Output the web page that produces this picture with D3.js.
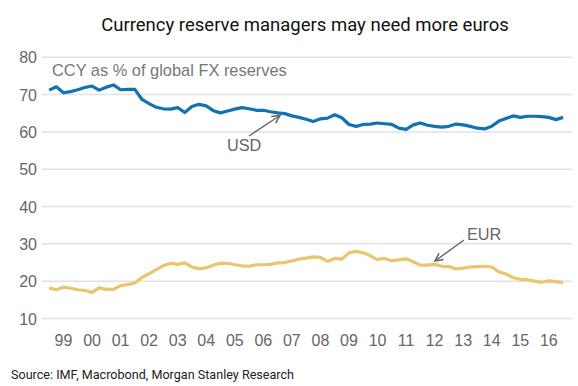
<!DOCTYPE html>
<html>
<head>
<meta charset="utf-8">
<script src="https://cdn.jsdelivr.net/npm/d3@7"></script>
<style>
  body { margin: 0; background: #fff; }
  svg { display: block; }
</style>
</head>
<body>
<div id="chart"></div>
<script>
// Currency reserve managers may need more euros
// quarterly COFER shares, 1999Q1 onwards
const startYear = 1999;
const usd = [
  71.2, 72.1, 70.5, 70.8, 71.3, 71.9, 72.3, 71.2, 72.0, 72.6,
  71.3, 71.4, 71.4, 68.7, 67.6, 66.6, 66.2, 66.1, 66.5, 65.2,
  66.8, 67.4, 67.0, 65.7, 65.1, 65.6, 66.1, 66.5, 66.2, 65.8,
  65.8, 65.4, 65.1, 64.9, 64.3, 63.9, 63.4, 62.8, 63.5, 63.7,
  64.6, 63.8, 62.0, 61.5, 62.0, 62.1, 62.4, 62.2, 62.0, 61.0,
  60.7, 61.9, 62.4, 61.8, 61.5, 61.3, 61.5, 62.1, 61.9, 61.5,
  61.0, 60.8, 61.5, 62.9, 63.6, 64.3, 63.9, 64.2, 64.2, 64.1,
  63.9, 63.3, 63.9
];
const eur = [
  18.2, 17.7, 18.4, 18.1, 17.7, 17.5, 17.0, 18.2, 17.8, 17.8,
  18.8, 19.1, 19.5, 21.0, 22.0, 23.1, 24.2, 24.8, 24.5, 24.9,
  23.8, 23.3, 23.6, 24.3, 24.8, 24.8, 24.4, 24.1, 24.0, 24.4,
  24.4, 24.5, 24.9, 25.0, 25.4, 25.9, 26.2, 26.5, 26.4, 25.3,
  26.1, 25.9, 27.6, 28.0, 27.6, 26.8, 25.8, 26.1, 25.5, 25.7,
  26.0, 25.2, 24.3, 24.3, 24.5, 24.0, 23.9, 23.3, 23.5, 23.8,
  23.9, 24.0, 23.8, 22.5, 21.9, 21.0, 20.5, 20.4, 20.0, 19.7,
  20.1, 19.9, 19.6
];
const yTicks = [10, 20, 30, 40, 50, 60, 70, 80];
const years = d3.range(1999, 2017);
const yearLabels = years.map(y => String(y).slice(2));

const W = 578, H = 386;
const svg = d3.select("#chart").append("svg")
  .attr("width", W)
  .attr("height", H);

const x = d3.scaleLinear().domain([1999, 2017]).range([49.2, 563.1]);
const y = d3.scaleLinear().domain([10, 80]).range([318.5, 57.3]);

const sans = "'Liberation Sans', Arial, sans-serif";

// title
svg.append("text")
  .attr("x", 305).attr("y", 31)
  .attr("text-anchor", "middle")
  .style("font-family", "Roboto, sans-serif")
  .style("font-size", "18.5px")
  .style("fill", "#111")
  .text("Currency reserve managers may need more euros");

// gridlines + y labels
const grid = svg.append("g");
grid.selectAll("line")
  .data(yTicks)
  .join("line")
  .attr("x1", 42).attr("x2", 572)
  .attr("y1", d => y(d)).attr("y2", d => y(d))
  .attr("stroke", "#e2e2e2")
  .attr("stroke-width", 1.5);

grid.selectAll("text")
  .data(yTicks)
  .join("text")
  .attr("x", 37)
  .attr("y", d => y(d) + 6)
  .attr("text-anchor", "end")
  .style("font-family", sans)
  .style("font-size", "16px")
  .style("fill", "#666")
  .text(d => d);

// x labels (centered on each year)
svg.append("g").selectAll("text")
  .data(years)
  .join("text")
  .attr("x", d => x(d + 0.5))
  .attr("y", 346)
  .attr("text-anchor", "middle")
  .style("font-family", sans)
  .style("font-size", "16px")
  .style("fill", "#666")
  .text((d, i) => yearLabels[i]);

// subtitle inside the plot
svg.append("text")
  .attr("x", 52).attr("y", 76)
  .style("font-family", sans)
  .style("font-size", "16.4px")
  .style("fill", "#777")
  .text("CCY as % of global FX reserves");

// lines
const line = d3.line()
  .x((d, i) => x(startYear + i / 4))
  .y(d => y(d));

svg.append("path")
  .datum(eur)
  .attr("d", line)
  .attr("fill", "none")
  .attr("stroke", "#ebc56b")
  .attr("stroke-width", 3.2)
  .attr("stroke-linejoin", "round");

svg.append("path")
  .datum(usd)
  .attr("d", line)
  .attr("fill", "none")
  .attr("stroke", "#1272b2")
  .attr("stroke-width", 3.2)
  .attr("stroke-linejoin", "round");

// annotations
svg.append("defs").append("marker")
  .attr("id", "arr")
  .attr("viewBox", "0 0 10 10")
  .attr("refX", 9).attr("refY", 5)
  .attr("markerWidth", 7).attr("markerHeight", 7)
  .attr("orient", "auto")
  .append("path")
  .attr("d", "M1,1 L9,5 L1,9")
  .attr("fill", "none")
  .attr("stroke", "#666")
  .attr("stroke-width", 1.6);

const notes = [
  { label: "USD", tx: 227, ty: 151, x1: 249, y1: 136, x2: 280, y2: 115.5 },
  { label: "EUR", tx: 467, ty: 240, x1: 464, y1: 240, x2: 435, y2: 261 }
];
notes.forEach(n => {
  svg.append("line")
    .attr("x1", n.x1).attr("y1", n.y1)
    .attr("x2", n.x2).attr("y2", n.y2)
    .attr("stroke", "#666")
    .attr("stroke-width", 1.4)
    .attr("marker-end", "url(#arr)");
  svg.append("text")
    .attr("x", n.tx).attr("y", n.ty)
    .style("font-family", sans)
    .style("font-size", "16.3px")
    .style("fill", "#666")
    .text(n.label);
});

// source
svg.append("text")
  .attr("x", 11).attr("y", 379)
  .style("font-family", "Roboto, sans-serif")
  .style("font-size", "12.6px")
  .style("fill", "#222")
  .text("Source: IMF, Macrobond, Morgan Stanley Research");
</script>
</body>
</html>
